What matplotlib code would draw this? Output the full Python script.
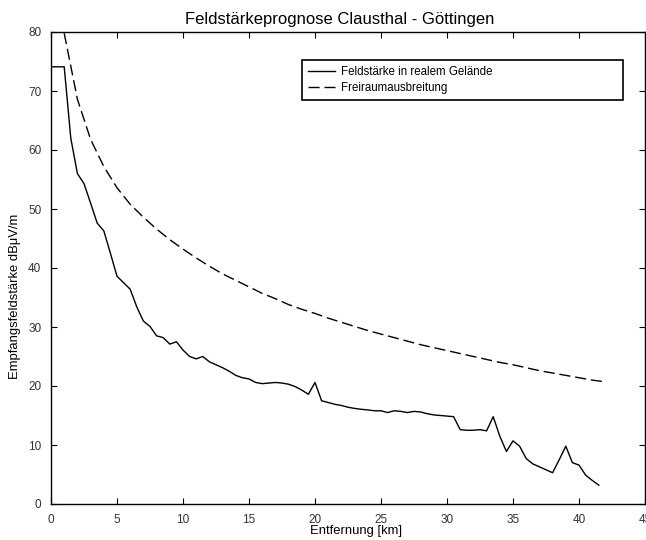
import matplotlib
matplotlib.use("Agg")
import matplotlib.pyplot as plt

plt.rcParams['font.family'] = ['Liberation Sans', 'DejaVu Sans']

# Field strength in real terrain (km, dBµV/m)
dist_real = [0.0, 0.5, 1.0, 1.5, 2.0, 2.5, 3.0, 3.5, 4.0, 4.5, 5.0, 5.5, 6.0, 6.5, 7.0,
             7.5, 8.0, 8.5, 9.0, 9.5, 10.0, 10.5, 11.0, 11.5, 12.0, 12.5, 13.0, 13.5,
             14.0, 14.5, 15.0, 15.5, 16.0, 16.5, 17.0, 17.5, 18.0, 18.5, 19.0, 19.5,
             20.0, 20.5, 21.0, 21.5, 22.0, 22.5, 23.0, 23.5, 24.0, 24.5, 25.0, 25.5,
             26.0, 26.5, 27.0, 27.5, 28.0, 28.5, 29.0, 29.5, 30.0, 30.5, 31.0, 31.5,
             32.0, 32.5, 33.0, 33.5, 34.0, 34.5, 35.0, 35.5, 36.0, 36.5, 37.0, 37.5,
             38.0, 38.5, 39.0, 39.5, 40.0, 40.5, 41.0, 41.5]
field_real = [74.1, 74.1, 74.1, 62.0, 56.0, 54.3, 51.0, 47.6, 46.3, 42.5, 38.6, 37.5, 36.4,
              33.4, 31.0, 30.1, 28.5, 28.2, 27.1, 27.5, 26.1, 25.0, 24.6, 25.0, 24.1,
              23.6, 23.1, 22.5, 21.8, 21.4, 21.2, 20.6, 20.4, 20.5, 20.6, 20.5, 20.3,
              19.9, 19.3, 18.6, 20.6, 17.5, 17.2, 16.9, 16.7, 16.4, 16.2, 16.05, 15.95,
              15.8, 15.8, 15.5, 15.8, 15.7, 15.5, 15.7, 15.6, 15.3, 15.1, 15.0, 14.9,
              14.8, 12.6, 12.5, 12.5, 12.6, 12.4, 14.8, 11.5, 8.9, 10.7, 9.8, 7.7, 6.8,
              6.3, 5.8, 5.3, 7.5, 9.8, 7.0, 6.6, 4.9, 4.0, 3.2]

# Free-space propagation
dist_free = [1, 2, 3, 4, 5, 6, 7, 8, 9, 10, 11, 12, 13, 14, 15, 16, 17, 18, 19, 20, 21,
             22, 23, 24, 25, 26, 27, 28, 29, 30, 31, 32, 33, 34, 35, 36, 37, 38, 39, 40,
             41, 42]
field_free = [79.8, 68.6, 61.8, 57.2, 53.6, 50.8, 48.6, 46.6, 44.8, 43.2, 41.7, 40.3,
              39.0, 37.9, 36.8, 35.7, 34.8, 33.8, 33.0, 32.3, 31.5, 30.8, 30.1, 29.4,
              28.8, 28.2, 27.6, 27.0, 26.5, 26.0, 25.5, 25.0, 24.5, 24.0, 23.6, 23.1,
              22.6, 22.2, 21.8, 21.4, 21.0, 20.7]

labels = ['Feldstärke in realem Gelände', 'Freiraumausbreitung']
x_ticks = [0, 5, 10, 15, 20, 25, 30, 35, 40, 45]
y_ticks = [0, 10, 20, 30, 40, 50, 60, 70, 80]

fig = plt.figure(figsize=(6.46, 5.40), dpi=100)
ax = fig.add_axes([51/646, 36/540, 594/646, 472/540])

ax.plot(dist_real, field_real, color='black', lw=1.0, label=labels[0])
ax.plot(dist_free, field_free, color='black', lw=1.0, dashes=(8, 3.5), label=labels[1])

ax.set_xlim(0, 45)
ax.set_ylim(0, 80)
ax.set_xticks(x_ticks)
ax.set_yticks(y_ticks)
ax.tick_params(direction='in', length=4, width=0.8, top=True, right=True,
               labelsize=8.5, labelcolor='#333333', pad=7)
for s in ax.spines.values():
    s.set_linewidth(1.0)

ax.set_title('Feldstärkeprognose Clausthal - Göttingen', fontsize=12, x=0.4865, pad=6)
ax.set_xlabel('Entfernung [km]', fontsize=9.4)
ax.set_ylabel('Empfangsfeldstärke dBμV/m', fontsize=9.4)
ax.xaxis.set_label_coords(0.513, -0.045)
ax.yaxis.set_label_coords(-0.050, 0.44)

leg = ax.legend(loc='lower left', bbox_to_anchor=(0.422, 0.856, 0.541, 0.101),
                mode='expand', borderaxespad=0, fontsize=8.3, handlelength=2.3,
                handletextpad=0.55, labelspacing=0.3, borderpad=0.55,
                fancybox=False, framealpha=1)
leg.get_frame().set_edgecolor('black')
leg.get_frame().set_linewidth(1.2)

fig.savefig('out.png', dpi=100)
